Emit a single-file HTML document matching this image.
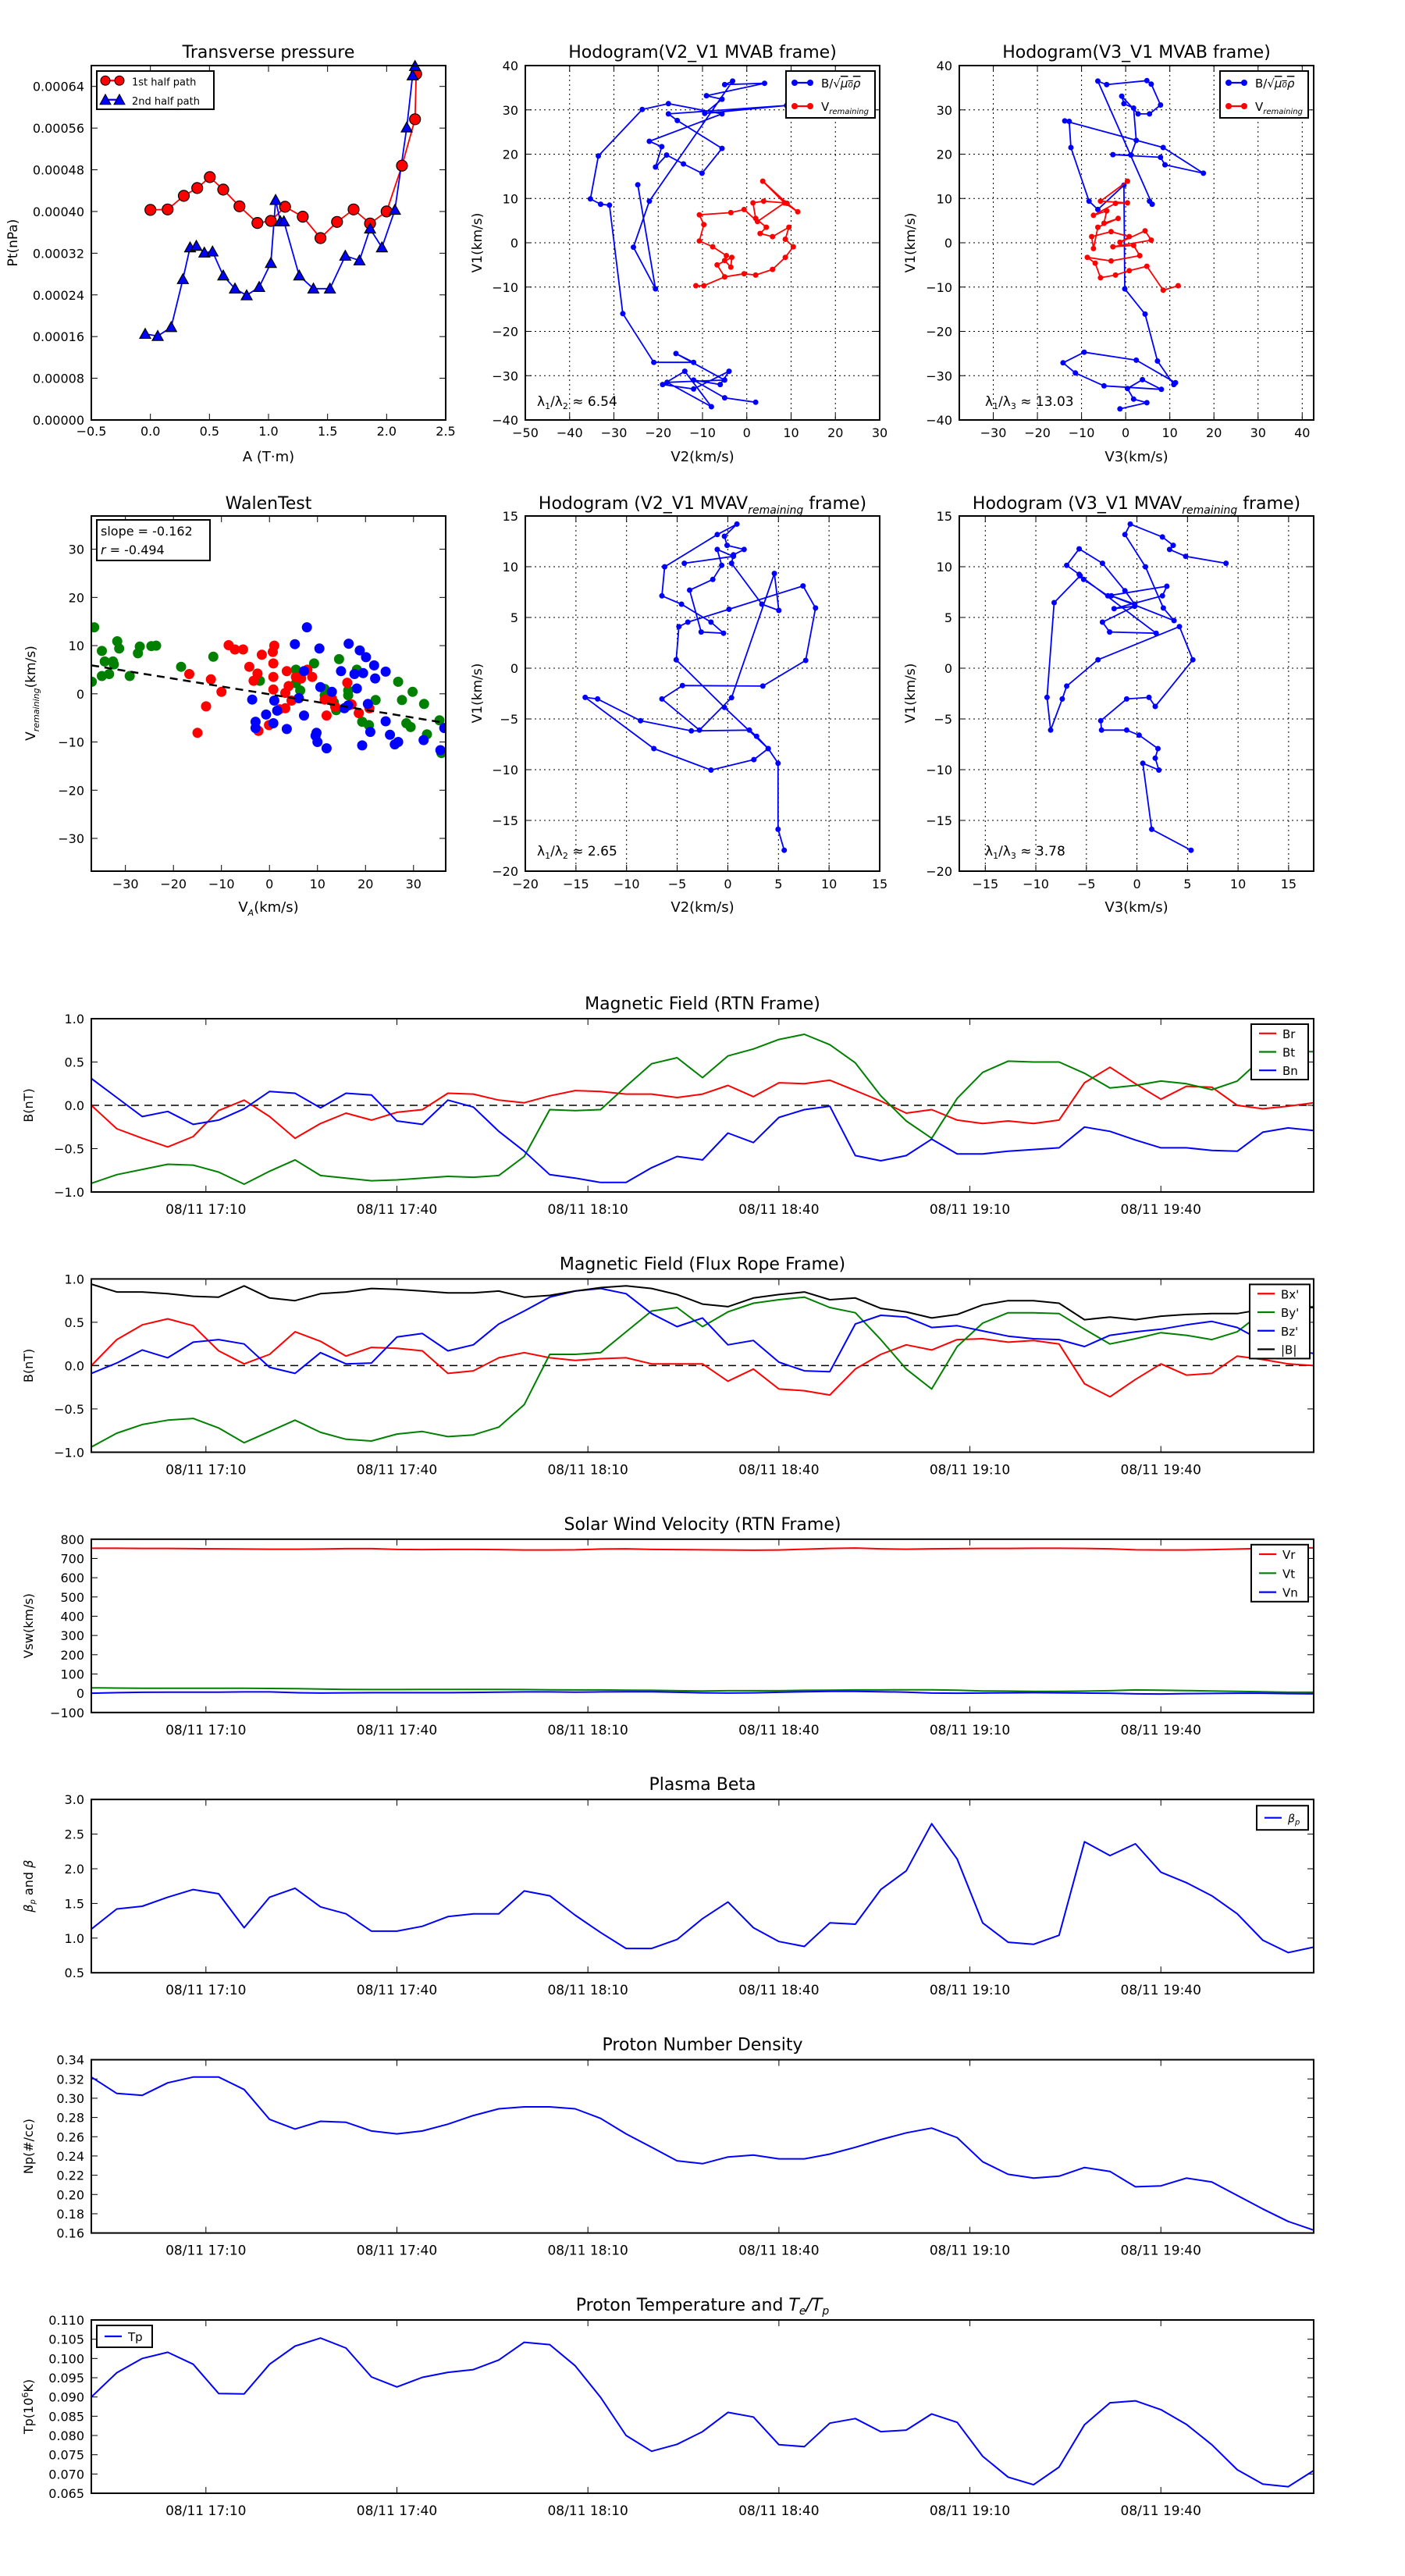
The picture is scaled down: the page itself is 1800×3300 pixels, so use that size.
<!DOCTYPE html>
<html><head><meta charset="utf-8"><style>
html,body{margin:0;padding:0;background:#fff}
svg{display:block;font-family:"DejaVu Sans","Liberation Sans",sans-serif}
</style></head><body>
<svg id="fig" xmlns="http://www.w3.org/2000/svg" width="1800" height="3300" viewBox="0 0 1800 3300"></svg>
<script>
// ---------- data ----------
const ptA1=[0.00,0.146,0.283,0.397,0.503,0.617,0.754,0.906,1.02,1.14,1.29,1.44,1.58,1.72,1.86,2.0,2.13,2.24,2.25];
const ptP1=[0.000403,0.000404,0.000430,0.000445,0.000466,0.000442,0.000410,0.000378,0.000382,0.000409,0.000390,0.000349,0.000380,0.000404,0.000377,0.000400,0.000488,0.000577,0.000664];
const ptA2=[-0.044,0.062,0.176,0.275,0.336,0.389,0.457,0.526,0.617,0.716,0.815,0.921,1.02,1.06,1.10,1.13,1.26,1.38,1.52,1.65,1.77,1.86,1.96,2.07,2.17,2.22,2.24];
const ptP2=[0.000165,0.000161,0.000178,0.000270,0.000331,0.000334,0.000321,0.000323,0.000277,0.000252,0.000239,0.000255,0.000301,0.000422,0.000381,0.000381,0.000277,0.000252,0.000252,0.000315,0.000306,0.000367,0.000331,0.000403,0.000561,0.000661,0.000679];

const h1BV2=[2,-5,-12,-6,-4,-12,-19,-14,-8,-18,-5,-16,-12,-21,-28,-31,-33,-35.3,-33.5,-23.6,-17.7,-5.6,-22,-19.2,-20.6,-18.1,-14.3,-10.1,-5.6,-15.7,-17.7,9,-9.5,-5.6,-9.1,4,-5,-3.2,-22,-25.6,-20.6,-24.6];
const h1BV1=[-36,-35,-31,-32,-29,-33,-32,-29,-37,-31.5,-31,-25,-27,-27,-16,8.5,8.7,9.9,19.6,30.1,31.4,29.1,22.9,21.7,17.1,19.8,17.8,15.7,21.3,27.6,29.1,31,29.2,32.4,33.2,36,35.7,36.5,9.4,-1,-10.4,13.1];
const h1RV2=[-11.5,-9.7,-5,-0.6,2,5.8,8.7,10.5,8.7,9.5,5.8,3,4.4,2,1.4,3.8,8.5,11.5,9.1,3.6,8.5,2.4,-0.6,-3.6,-10.7,-9.7,-10.7,-7.7,-4.6,-5,-3.6,-3.4,-6.7,-5];
const h1RV1=[-9.7,-9.7,-7.7,-7,-7.3,-6,-3.3,-0.9,0.8,3.5,1.4,2.1,3.5,5.5,9,9.4,9,7,8.9,13.9,9,4.8,7.5,6.8,6.3,4.1,0.4,-0.9,-2.9,-4,-5.5,-3.3,-5,-7.7];

const h2BV3=[-1.3,4.8,1.8,0.4,3.8,8.1,-4.9,-11.4,-14.2,-9.4,2.4,11.3,10.9,7.2,4.4,-0.2,-0.4,-6.3,-8.3,-12.4,-12.8,-13.8,8.5,17.6,8.9,7.9,-2.9,1.2,2.4,1.8,-0.4,-0.9,2.8,5.4,7.9,5.8,4.8,-4.3,-6.3,6.0,5.4];
const h2BV1=[-37.5,-36.1,-35.3,-32.9,-30.9,-33.1,-32.3,-29.4,-27.1,-24.7,-26.5,-31.6,-32,-26.7,-16.1,-10.4,13,7.5,9.4,21.5,27.4,27.5,21.5,15.7,17.6,19.3,19.9,19.8,23.1,30.4,31.4,33.1,29.1,29.1,31.1,35.8,36.6,35.7,36.5,8.7,9.4];
const h2RV3=[11.9,8.5,4.8,0.8,-2.3,-5.7,-6.9,-8.7,-3.3,3.2,1.8,-2.9,5.8,4.4,-1.3,0.8,-3.3,-7.7,-7.3,-6.3,-1.7,-4.9,-4.3,-7.3,-2.3,0.4,-5.7,0.4];
const h2RV1=[-9.7,-10.7,-5.3,-6.3,-7.3,-7.9,-4.6,-3.3,-4.1,-2.9,-0.6,-0.9,0.6,2.7,0.1,1.4,2.5,1.4,-1.3,3.5,5.5,4.4,7.2,6.2,8.9,9.0,9.4,13.9];

const wGx=[-36.5,-34.9,-34.3,-32.6,-31.7,-31.3,-32.4,-34.9,-33.4,-29.1,-27.4,-27.0,-24.6,-23.6,-18.4,-11.7,-37.0,-2.0,5.5,9.3,5.5,6.4,11.5,14.5,16.4,16.4,18.2,18.6,19.3,20.7,22.1,26.8,27.6,29.8,32.2,28.5,29.4,32.8,35.4,35.8,13.9,11.5,13.4];
const wGy=[13.8,8.9,6.7,6.7,10.9,9.4,6.1,3.7,4.1,3.7,8.4,9.8,9.9,10.0,5.6,7.7,2.5,2.7,5.0,6.3,2.2,0.7,1.0,7.2,0.7,-0.3,5.0,-4.0,-5.8,-6.5,-1.3,2.5,-1.3,0.4,-2.1,-6.1,-6.9,-8.4,-5.5,-12.3,-3.4,-0.3,-1.8];
const wRx=[-8.5,-7.2,-5.5,-1.6,1.0,0.7,0.8,-4.2,-2.5,-3.3,0.8,3.6,7.9,8.9,6.6,5.5,4.0,3.3,0.8,-10.0,-12.2,-16.7,-13.2,-15.0,-2.3,-0.1,2.1,3.3,4.6,6.1,11.5,13.0,13.7,16.2,17.1,18.6,20.8,11.9];
const wRy=[10.1,9.2,9.2,8.1,10.0,8.7,6.3,5.6,4.2,2.7,3.5,4.7,5.0,3.5,3.2,3.5,1.6,0.2,0.9,0.4,3.0,4.1,-2.6,-8.1,-7.7,-6.5,-3.2,-3.0,-1.4,-0.9,-1.2,-1.0,-2.7,2.3,-2.2,-4.0,-3.0,-4.5];
const wBx=[7.8,5.3,10.4,16.5,18.8,20.1,21.8,24.2,22.0,19.5,17.7,14.9,13.0,10.6,7.2,6.1,7.2,3.6,0.8,-0.7,-2.9,-2.9,-3.6,1.0,1.6,9.8,9.6,10.0,11.9,21.0,19.3,25.1,26.1,26.8,32.1,35.6,36.4,24.2,20.5,18.2,16.4,15.6];
const wBy=[13.8,10.3,9.4,10.4,9.0,7.6,5.9,4.6,3.2,4.3,4.1,4.7,0.4,1.4,4.7,-0.9,-4.5,-7.3,-6.1,-4.3,-5.8,-7.1,-1.2,-1.4,-3.5,-8.1,-8.7,-10.0,-11.3,-7.9,-10.7,-8.5,-10.5,-10.0,-9.6,-11.7,-7.1,-5.7,-2.1,1.1,-2.4,-3.0];
const walenSlope=-0.162, walenIntercept=-0.1;

const h3V2=[5.57,4.96,4.96,3.99,2.84,2.13,-3.60,-8.62,-12.86,-14.09,-7.30,-1.66,2.57,3.99,-0.33,-5.10,-4.83,-3.95,0.11,7.43,8.66,7.69,3.46,-4.48,-6.51,-2.80,0.37,4.60,5.04,3.37,0.37,0.55,1.61,-0.07,-0.33,0.90,-1.04,-6.24,-6.51,-4.57,-1.66,-0.42,-2.63,-3.77,-1.48,-0.60,-1.04,0.55,-4.30];
const h3V1=[-17.94,-15.88,-9.37,-7.92,-6.71,-6.10,-6.18,-5.18,-3.03,-2.88,-7.92,-10.04,-9.01,-7.92,-3.86,0.83,4.10,4.54,5.81,8.11,5.93,0.77,-1.76,-1.71,-3.03,-6.10,-2.91,9.34,5.69,6.31,10.34,11.17,11.70,12.11,13.00,14.20,13.17,9.99,7.13,6.31,4.54,3.45,3.57,7.69,8.75,10.14,11.70,11.02,10.34];
const h4V3=[5.35,1.46,0.58,2.17,1.81,2.08,0.22,-1.02,-3.50,-3.58,-1.02,1.19,1.81,5.53,4.20,-3.85,-6.95,-7.39,-8.54,-8.89,-8.19,-5.62,1.90,-2.70,-3.41,-0.22,-2.26,2.52,2.96,-2.88,-5.27,-5.71,-6.95,-5.71,-3.41,-1.19,-0.22,-2.52,3.67,2.61,0.84,-1.19,-0.66,2.52,3.58,3.23,4.82,8.81];
const h4V1=[-17.94,-15.88,-9.37,-10.04,-8.87,-7.92,-6.60,-6.10,-6.10,-5.18,-3.03,-2.88,-3.77,0.83,4.10,0.83,-1.76,-3.03,-6.10,-2.88,6.46,9.11,3.45,3.57,4.54,6.10,5.87,7.13,8.08,7.13,8.75,9.25,10.14,11.76,10.34,7.63,6.31,7.13,4.69,5.93,9.99,13.17,14.20,12.93,12.11,11.70,11.02,10.34];

const minutes=[0,4,8,12,16,20,24,28,32,36,40,44,48,52,56,60,64,68,72,76,80,84,88,92,96,100,104,108,112,116,120,124,128,132,136,140,144,148,152,156,160,164,168,172,176,180,184,188,192];
const timeTickMin=[18,48,78,108,138,168];
const timeTickLbl=["08/11 17:10","08/11 17:40","08/11 18:10","08/11 18:40","08/11 19:10","08/11 19:40"];

const Br=[0,-0.27,-0.38,-0.48,-0.36,-0.06,0.06,-0.13,-0.38,-0.21,-0.09,-0.17,-0.08,-0.05,0.14,0.13,0.06,0.03,0.11,0.17,0.16,0.13,0.13,0.09,0.13,0.23,0.10,0.26,0.25,0.29,0.17,0.05,-0.09,-0.05,-0.17,-0.21,-0.18,-0.21,-0.17,0.26,0.44,0.25,0.07,0.22,0.21,0.0,-0.04,-0.01,0.03];
const Bt=[-0.90,-0.80,-0.74,-0.68,-0.69,-0.77,-0.91,-0.76,-0.63,-0.81,-0.84,-0.87,-0.86,-0.84,-0.82,-0.83,-0.81,-0.59,-0.05,-0.06,-0.05,0.22,0.48,0.55,0.32,0.57,0.65,0.76,0.82,0.70,0.49,0.11,-0.18,-0.38,0.08,0.38,0.51,0.50,0.50,0.37,0.20,0.23,0.28,0.25,0.18,0.28,0.55,0.62,0.62];
const Bn=[0.31,0.09,-0.13,-0.07,-0.22,-0.17,-0.04,0.16,0.14,-0.03,0.14,0.12,-0.18,-0.22,0.06,-0.02,-0.30,-0.53,-0.80,-0.84,-0.89,-0.89,-0.72,-0.59,-0.63,-0.32,-0.43,-0.14,-0.05,-0.01,-0.58,-0.64,-0.58,-0.39,-0.56,-0.56,-0.53,-0.51,-0.49,-0.25,-0.30,-0.40,-0.49,-0.49,-0.52,-0.53,-0.31,-0.26,-0.29];
const Bx=[0,0.30,0.47,0.54,0.46,0.17,0.02,0.13,0.39,0.28,0.11,0.21,0.20,0.17,-0.09,-0.06,0.09,0.15,0.09,0.06,0.08,0.09,0.02,0.02,0.02,-0.18,-0.04,-0.27,-0.29,-0.34,-0.04,0.13,0.24,0.18,0.30,0.31,0.27,0.29,0.25,-0.21,-0.36,-0.16,0.02,-0.11,-0.09,0.11,0.07,0.02,0.0];
const By=[-0.94,-0.78,-0.68,-0.63,-0.61,-0.72,-0.89,-0.76,-0.63,-0.77,-0.85,-0.87,-0.79,-0.76,-0.82,-0.80,-0.71,-0.45,0.13,0.13,0.15,0.39,0.63,0.67,0.45,0.62,0.72,0.76,0.79,0.67,0.61,0.30,-0.04,-0.27,0.22,0.49,0.61,0.61,0.60,0.42,0.25,0.31,0.38,0.35,0.30,0.39,0.62,0.68,0.68];
const Bz=[-0.09,0.03,0.18,0.09,0.27,0.30,0.25,-0.02,-0.09,0.15,0.02,0.03,0.33,0.37,0.17,0.24,0.48,0.63,0.79,0.86,0.89,0.83,0.60,0.45,0.55,0.24,0.29,0.04,-0.06,-0.07,0.48,0.58,0.56,0.44,0.46,0.40,0.34,0.31,0.30,0.22,0.35,0.39,0.42,0.47,0.51,0.44,0.28,0.19,0.14];
const Bmag=[0.94,0.85,0.85,0.83,0.80,0.79,0.92,0.78,0.75,0.83,0.85,0.89,0.88,0.86,0.84,0.84,0.86,0.79,0.81,0.86,0.90,0.92,0.89,0.82,0.71,0.68,0.78,0.82,0.85,0.76,0.78,0.66,0.62,0.55,0.59,0.70,0.75,0.75,0.72,0.53,0.56,0.53,0.57,0.59,0.60,0.60,0.65,0.66,0.67];
const Vr=[753,753,752,752,751,750,749,748,748,749,751,751,747,746,747,747,746,744,744,745,749,750,747,746,745,744,743,744,748,752,754,750,748,750,751,752,752,753,753,752,750,745,744,744,746,749,752,754,755];
const Vt=[28,27,26,26,26,26,26,25,24,22,20,19,19,20,20,20,20,19,18,17,17,16,15,13,12,13,13,13,15,16,17,17,18,18,16,12,11,10,10,11,13,17,16,14,12,10,8,5,5];
const Vn=[0,3,5,6,6,6,7,7,3,1,2,3,3,3,3,4,6,7,7,6,7,8,8,5,2,1,2,5,8,10,10,8,6,1,0,1,2,3,2,1,0,-3,-4,-2,-1,0,0,-2,-3];
const beta=[1.13,1.42,1.46,1.59,1.70,1.64,1.15,1.59,1.72,1.45,1.35,1.10,1.10,1.17,1.31,1.35,1.35,1.68,1.61,1.33,1.08,0.85,0.85,0.98,1.28,1.52,1.15,0.95,0.88,1.22,1.20,1.70,1.97,2.65,2.14,1.22,0.94,0.91,1.04,2.39,2.19,2.36,1.95,1.80,1.61,1.35,0.97,0.79,0.87];
const Np=[0.322,0.305,0.303,0.316,0.322,0.322,0.309,0.278,0.268,0.276,0.275,0.266,0.263,0.266,0.273,0.282,0.289,0.291,0.291,0.289,0.279,0.263,0.249,0.235,0.232,0.239,0.241,0.237,0.237,0.242,0.249,0.257,0.264,0.269,0.259,0.234,0.221,0.217,0.219,0.228,0.224,0.208,0.209,0.217,0.213,0.199,0.185,0.172,0.163];
const Tp=[0.090,0.0963,0.100,0.1016,0.0985,0.0909,0.0908,0.0985,0.1032,0.1053,0.1027,0.0952,0.0926,0.0951,0.0964,0.0971,0.0996,0.1042,0.1036,0.0981,0.0899,0.0800,0.0759,0.0777,0.0810,0.0860,0.0848,0.0776,0.0771,0.0832,0.0844,0.0810,0.0814,0.0856,0.0834,0.0746,0.0692,0.0672,0.0718,0.0828,0.0885,0.0890,0.0867,0.0829,0.0776,0.0711,0.0674,0.0667,0.0709];

// ---------- helpers ----------
const NS="http://www.w3.org/2000/svg";
const fig=document.getElementById('fig');
function mk(tag,attrs,parent){const e=document.createElementNS(NS,tag);for(const k in attrs)e.setAttribute(k,attrs[k]);(parent||fig).appendChild(e);return e;}
function txt(s,x,y,size,anchor,parent,extra){const t=mk('text',Object.assign({x:x,y:y,'font-size':size,'text-anchor':anchor||'middle',fill:'#000'},extra||{}),parent);t.textContent=s;return t;}
function fmt(v,d){const s=v.toFixed(d);return v<0?'\u2212'+s.slice(1):s;}

function makeAxes(name,box,xr,yr){
  const g=mk('g',{});
  
  
  return {g:g,box:box,
    sx:v=>box.l+(v-xr[0])/(xr[1]-xr[0])*(box.r-box.l),
    sy:v=>box.b-(v-yr[0])/(yr[1]-yr[0])*(box.b-box.t)};
}
function frame(ax){
  const b=ax.box;
  const f=mk('rect',{x:b.l,y:b.t,width:b.r-b.l,height:b.b-b.t,fill:'none',stroke:'#000','stroke-width':2},ax.g);
  
  
}
function xticks(ax,vals,labels,opt){
  const b=ax.box;opt=opt||{};
  vals.forEach((v,i)=>{const x=ax.sx(v);
    if(opt.grid){const gl=mk('line',{x1:x,x2:x,y1:b.t,y2:b.b,stroke:'#000','stroke-width':1,'stroke-dasharray':'2,4'},ax.g);}
    mk('line',{x1:x,x2:x,y1:b.b,y2:b.b-8,stroke:'#000','stroke-width':1},ax.g);
    mk('line',{x1:x,x2:x,y1:b.t,y2:b.t+8,stroke:'#000','stroke-width':1},ax.g);
    const t=txt(labels[i],x,b.b+(opt.dy||23),opt.fs||17,'middle',ax.g);
    
    
  });
}
function yticks(ax,vals,labels,opt){
  const b=ax.box;opt=opt||{};
  vals.forEach((v,i)=>{const y=ax.sy(v);
    if(opt.grid){const gl=mk('line',{x1:b.l,x2:b.r,y1:y,y2:y,stroke:'#000','stroke-width':1,'stroke-dasharray':'2,4'},ax.g);}
    mk('line',{x1:b.l,x2:b.l+8,y1:y,y2:y,stroke:'#000','stroke-width':1},ax.g);
    mk('line',{x1:b.r,x2:b.r-8,y1:y,y2:y,stroke:'#000','stroke-width':1},ax.g);
    const t=txt(labels[i],b.l-9,y+6,opt.fs||17,'end',ax.g);
    
    
  });
}
function line(ax,xs,ys,color,name,w){
  const d=xs.map((x,i)=>(i?'L':'M')+ax.sx(x).toFixed(1)+','+ax.sy(ys[i]).toFixed(1)).join('');
  const p=mk('path',{d:d,fill:'none',stroke:color,'stroke-width':w||2,'stroke-linejoin':'round'},ax.g);
  
  
  return p;
}
function dots(ax,xs,ys,color,name,r,edge){
  const g=mk('g',{},ax.g);
  
  
  xs.forEach((x,i)=>{mk('circle',{cx:ax.sx(x).toFixed(1),cy:ax.sy(ys[i]).toFixed(1),r:r,fill:color,stroke:edge||'none','stroke-width':1.2},g);});
}
function tris(ax,xs,ys,color,name,s){
  const g=mk('g',{},ax.g);
  
  
  xs.forEach((x,i)=>{const cx=ax.sx(x),cy=ax.sy(ys[i]);
    mk('polygon',{points:`${cx},${cy-s} ${cx-s},${cy+s*0.8} ${cx+s},${cy+s*0.8}`,fill:color,stroke:'#000','stroke-width':1.2},g);});
}
function clip(ax,id){const cp=mk('clipPath',{id:id});mk('rect',{x:ax.box.l,y:ax.box.t,width:ax.box.r-ax.box.l,height:ax.box.b-ax.box.t},cp);const g=mk('g',{'clip-path':`url(#${id})`},ax.g);return {g:g,sx:ax.sx,sy:ax.sy,box:ax.box};}
function title(s,x,y,name){const t=txt(s,x,y,22,'middle');return t;}
function ylabel(s,x,y,name,fs){const t=txt(s,x,y,fs||17,'middle',null,{transform:`rotate(-90 ${x} ${y})`});return t;}
function xlabel(s,x,y,name){const t=txt(s,x,y,18,'middle');return t;}
function legend(x,y,w,h,items,name){
  const g=mk('g',{});
  
  
  mk('rect',{x:x,y:y,width:w,height:h,fill:'#fff',stroke:'#000','stroke-width':2},g);
  const step=h/items.length;
  items.forEach((it,i)=>{const cy=y+step*(i+0.5);
    const e=mk('g',{},g);
    
    
    mk('line',{x1:x+10,x2:x+32,y1:cy,y2:cy,stroke:it.c,'stroke-width':2.2},e);
    if(it.m==='o'){mk('circle',{cx:x+11,cy:cy,r:6,fill:it.c,stroke:'#000'},e);mk('circle',{cx:x+29,cy:cy,r:6,fill:it.c,stroke:'#000'},e);}
    if(it.m==='^'){[x+11,x+29].forEach(cx=>mk('polygon',{points:`${cx},${cy-7} ${cx-7},${cy+6} ${cx+7},${cy+6}`,fill:it.c,stroke:'#000'},e));}
    if(it.m==='.'){mk('circle',{cx:x+11,cy:cy,r:4,fill:it.c},e);mk('circle',{cx:x+31,cy:cy,r:4,fill:it.c},e);}
    const t=txt('',x+(it.tx||45),cy+6,it.fs||16,'start',e);t.innerHTML=it.t;
  });
}
function range(a,b,s){const r=[];for(let v=a;v<=b+1e-9;v+=s)r.push(+v.toFixed(6));return r;}

const R1={t:84,b:538}, R2={t:661,b:1116};
const C1={l:117,r:571}, C2={l:673,r:1127}, C3={l:1229,r:1683};
const bx=(c,r)=>({l:c.l,r:c.r,t:r.t,b:r.b});

// ---------- Panel 1 ----------
{const ax=makeAxes('transverse-pressure-chart',bx(C1,R1),[-0.5,2.5],[0,0.00068]);
 title('Transverse pressure',344,74,'transverse-pressure-title');
 const xv=range(-0.5,2.5,0.5);xticks(ax,xv,xv.map(v=>fmt(v,1)),{dy:20,fs:16});
 const yv=range(0,0.00064,0.00008);yticks(ax,yv,yv.map(v=>v.toFixed(5)),{fs:16});
 const sub=clip(ax,'c1');
 line(sub,ptA1,ptP1,'#f00','first-half-line',1.8);
 line(sub,ptA2,ptP2,'#00f','second-half-line',1.8);
 dots(ax,ptA1,ptP1,'#f00','first-half-markers',7,'#000');
 tris(ax,ptA2,ptP2,'#00f','second-half-markers',7);
 frame(ax);
 legend(124,91,150,49,[{c:'#f00',m:'o',t:'1st half path',fs:13},{c:'#00f',m:'^',t:'2nd half path',fs:13}],'pressure-legend');
 ylabel('Pt(nPa)',22,311,'pressure-y-title');
 xlabel('A (T\u00b7m)',344,591,'pressure-x-title');}

// ---------- Panel 2 ----------
{const ax=makeAxes('hodogram-v2-v1-mvab',bx(C2,R1),[-50,30],[-40,40]);
 title('Hodogram(V2_V1 MVAB frame)',900,74,'hodogram1-title');
 const xv=range(-50,30,10);xticks(ax,xv,xv.map(v=>fmt(v,0)),{grid:true,dy:22,fs:16});
 const yv=range(-40,40,10);yticks(ax,yv,yv.map(v=>fmt(v,0)),{grid:true,fs:16});
 const sub=clip(ax,'c2');
 line(sub,h1BV2,h1BV1,'#00f','b-hodogram-line',1.8);dots(sub,h1BV2,h1BV1,'#00f','b-hodogram-points',3.5);
 line(sub,h1RV2,h1RV1,'#f00','v-remaining-line',1.8);dots(sub,h1RV2,h1RV1,'#f00','v-remaining-points',3.5);
 frame(ax);
 legend(1007,91,114,60,[{c:'#00f',m:'.',t:'B/√<tspan text-decoration="overline" font-style="italic">μ<tspan font-size="10">0</tspan>ρ</tspan>',fs:15},{c:'#f00',m:'.',t:'V<tspan font-size="10" dy="4" font-style="italic">remaining</tspan>',fs:15}],'hodogram1-legend');
 const l=txt('',688,520,17,'start');l.innerHTML='λ<tspan font-size="11" dy="4">1</tspan><tspan dy="-4">/λ</tspan><tspan font-size="11" dy="4">2</tspan><tspan dy="-4"> ≈ 6.54</tspan>';
 
 ylabel('V1(km/s)',617,311,'hodogram1-y-title');
 xlabel('V2(km/s)',900,591,'hodogram1-x-title');}

// ---------- Panel 3 ----------
{const ax=makeAxes('hodogram-v3-v1-mvab',bx(C3,R1),[-37.7,42.6],[-40,40]);
 title('Hodogram(V3_V1 MVAB frame)',1456,74,'hodogram2-title');
 const xv=range(-30,40,10);xticks(ax,xv,xv.map(v=>fmt(v,0)),{grid:true,dy:22,fs:16});
 const yv=range(-40,40,10);yticks(ax,yv,yv.map(v=>fmt(v,0)),{grid:true,fs:16});
 const sub=clip(ax,'c3');
 line(sub,h2BV3,h2BV1,'#00f','b-hodogram-line',1.8);dots(sub,h2BV3,h2BV1,'#00f','b-hodogram-points',3.5);
 line(sub,h2RV3,h2RV1,'#f00','v-remaining-line',1.8);dots(sub,h2RV3,h2RV1,'#f00','v-remaining-points',3.5);
 frame(ax);
 legend(1563,91,113,60,[{c:'#00f',m:'.',t:'B/√<tspan text-decoration="overline" font-style="italic">μ<tspan font-size="10">0</tspan>ρ</tspan>',fs:15},{c:'#f00',m:'.',t:'V<tspan font-size="10" dy="4" font-style="italic">remaining</tspan>',fs:15}],'hodogram2-legend');
 const l=txt('',1262,520,17,'start');l.innerHTML='λ<tspan font-size="11" dy="4">1</tspan><tspan dy="-4">/λ</tspan><tspan font-size="11" dy="4">3</tspan><tspan dy="-4"> ≈ 13.03</tspan>';
 
 ylabel('V1(km/s)',1172,311,'hodogram2-y-title');
 xlabel('V3(km/s)',1456,591,'hodogram2-x-title');}

// ---------- Panel 4: Walen ----------
{const ax=makeAxes('walen-test-chart',bx(C1,R2),[-37.1,36.7],[-36.8,36.9]);
 title('WalenTest',344,652,'walen-title');
 const xv=range(-30,30,10);xticks(ax,xv,xv.map(v=>fmt(v,0)),{dy:22,fs:16});
 const yv=range(-30,30,10);yticks(ax,yv,yv.map(v=>fmt(v,0)),{fs:16});
 const sub=clip(ax,'c4');
 dots(sub,wGx,wGy,'#008000','walen-green-points',6.5);
 dots(sub,wRx,wRy,'#f00','walen-red-points',6.5);
 dots(sub,wBx,wBy,'#00f','walen-blue-points',6.5);
 const fx=[-37.1,36.7];const fy=fx.map(v=>walenSlope*v+walenIntercept);
 const fl=line(sub,fx,fy,'#000','walen-fit-line',2.5);fl.setAttribute('stroke-dasharray','10,7');
 frame(ax);
 const g=mk('g',{});
 mk('rect',{x:124,y:666,width:145,height:52,fill:'#fff',stroke:'#000','stroke-width':2},g);
 txt('slope = -0.162',129,686,16,'start',g);
 const r=txt('',129,710,16,'start',g);r.innerHTML='<tspan font-style="italic">r</tspan> = -0.494';
 const yl=ylabel('',45,888,'walen-y-title');yl.innerHTML='V<tspan font-size="11" dy="5" font-style="italic">remaining</tspan><tspan dy="-5">(km/s)</tspan>';
 const xl=xlabel('',344,1168,'walen-x-title');xl.innerHTML='V<tspan font-size="11" dy="5" font-style="italic">A</tspan><tspan dy="-5">(km/s)</tspan>';}

// ---------- Panel 5 ----------
{const ax=makeAxes('hodogram-v2-v1-mvav',bx(C2,R2),[-20,15],[-20,15]);
 const t=title('',900,652,'hodogram3-title');t.innerHTML='Hodogram (V2_V1 MVAV<tspan font-size="14" dy="6" font-style="italic">remaining</tspan><tspan dy="-6"> frame)</tspan>';
 const xv=range(-20,15,5);xticks(ax,xv,xv.map(v=>fmt(v,0)),{grid:true,dy:22,fs:16});
 const yv=range(-20,15,5);yticks(ax,yv,yv.map(v=>fmt(v,0)),{grid:true,fs:16});
 const sub=clip(ax,'c5');
 line(sub,h3V2,h3V1,'#00f','mvav-hodogram-line',1.8);dots(sub,h3V2,h3V1,'#00f','mvav-hodogram-points',3.5);
 frame(ax);
 const l=txt('',688,1096,17,'start');l.innerHTML='λ<tspan font-size="11" dy="4">1</tspan><tspan dy="-4">/λ</tspan><tspan font-size="11" dy="4">2</tspan><tspan dy="-4"> ≈ 2.65</tspan>';
 
 ylabel('V1(km/s)',617,888,'hodogram3-y-title');
 xlabel('V2(km/s)',900,1168,'hodogram3-x-title');}

// ---------- Panel 6 ----------
{const ax=makeAxes('hodogram-v3-v1-mvav',bx(C3,R2),[-17.57,17.48],[-20,15]);
 const t=title('',1456,652,'hodogram4-title');t.innerHTML='Hodogram (V3_V1 MVAV<tspan font-size="14" dy="6" font-style="italic">remaining</tspan><tspan dy="-6"> frame)</tspan>';
 const xv=range(-15,15,5);xticks(ax,xv,xv.map(v=>fmt(v,0)),{grid:true,dy:22,fs:16});
 const yv=range(-20,15,5);yticks(ax,yv,yv.map(v=>fmt(v,0)),{grid:true,fs:16});
 const sub=clip(ax,'c6');
 line(sub,h4V3,h4V1,'#00f','mvav-hodogram-line',1.8);dots(sub,h4V3,h4V1,'#00f','mvav-hodogram-points',3.5);
 frame(ax);
 const l=txt('',1262,1096,17,'start');l.innerHTML='λ<tspan font-size="11" dy="4">1</tspan><tspan dy="-4">/λ</tspan><tspan font-size="11" dy="4">3</tspan><tspan dy="-4"> ≈ 3.78</tspan>';
 
 ylabel('V1(km/s)',1172,888,'hodogram4-y-title');
 xlabel('V3(km/s)',1456,1168,'hodogram4-x-title');}

// ---------- Time series ----------
function timePanel(name,top,yr,yv,ydec,ttl,ylab,series,leg,zeroLine){
  const bot=top+222;
  const ax=makeAxes(name,{l:117,r:1683,t:top,b:bot},[0,192],yr);
  const tt=title('',900,top-12,name+'-title');tt.innerHTML=ttl;
  xticks(ax,timeTickMin,timeTickLbl,{dy:28,fs:17});
  yticks(ax,yv,yv.map(v=>fmt(v,ydec)),{fs:16});
  const sub=clip(ax,'c'+name);
  if(zeroLine){const z=line(sub,[0,192],[0,0],'#000','zero-line',1.5);z.setAttribute('stroke-dasharray','10,7');}
  series.forEach(s=>line(sub,minutes,s.v,s.c,s.n,2));
  frame(ax);
  if(leg)legend(leg.x,top+leg.dy,leg.w,leg.h,leg.items,name+'-legend');
  const yl=ylabel('',42,top+111,name+'-y-title',16);yl.innerHTML=ylab;
}
const T0=1305, TP=333.4;
timePanel('magnetic-field-rtn',T0,[-1,1],range(-1,1,0.5),1,'Magnetic Field (RTN Frame)','B(nT)',
  [{v:Br,c:'#f00',n:'br-line'},{v:Bt,c:'#008000',n:'bt-line'},{v:Bn,c:'#00f',n:'bn-line'}],
  {x:1603,dy:7,w:73,h:71,items:[{c:'#f00',t:'Br',fs:15,tx:40},{c:'#008000',t:'Bt',fs:15,tx:40},{c:'#00f',t:'Bn',fs:15,tx:40}]},true);
timePanel('magnetic-field-flux-rope',T0+TP,[-1,1],range(-1,1,0.5),1,'Magnetic Field (Flux Rope Frame)','B(nT)',
  [{v:Bx,c:'#f00',n:'bx-line'},{v:By,c:'#008000',n:'by-line'},{v:Bz,c:'#00f',n:'bz-line'},{v:Bmag,c:'#000',n:'bmag-line'}],
  {x:1601,dy:7,w:77,h:95,items:[{c:'#f00',t:"Bx'",fs:15,tx:40},{c:'#008000',t:"By'",fs:15,tx:40},{c:'#00f',t:"Bz'",fs:15,tx:40},{c:'#000',t:'|B|',fs:15,tx:40}]},true);
timePanel('solar-wind-velocity',T0+2*TP,[-100,800],range(-100,800,100),0,'Solar Wind Velocity (RTN Frame)','Vsw(km/s)',
  [{v:Vr,c:'#f00',n:'vr-line'},{v:Vt,c:'#008000',n:'vt-line'},{v:Vn,c:'#00f',n:'vn-line'}],
  {x:1603,dy:7,w:73,h:73,items:[{c:'#f00',t:'Vr',fs:15,tx:40},{c:'#008000',t:'Vt',fs:15,tx:40},{c:'#00f',t:'Vn',fs:15,tx:40}]},false);
timePanel('plasma-beta',T0+3*TP,[0.5,3.0],range(0.5,3.0,0.5),1,'Plasma Beta','<tspan font-style="italic">β<tspan font-size="10" dy="3">p</tspan></tspan><tspan dy="-3"> and </tspan><tspan font-style="italic">β</tspan>',
  [{v:beta,c:'#00f',n:'beta-line'}],
  {x:1610,dy:8,w:66,h:31,items:[{c:'#00f',t:'<tspan font-style="italic">β<tspan font-size="10" dy="3">p</tspan></tspan>',fs:14,tx:40}]},false);
timePanel('proton-density',T0+4*TP,[0.16,0.34],range(0.16,0.34,0.02),2,'Proton Number Density','Np(#/cc)',
  [{v:Np,c:'#00f',n:'density-line'}],null,false);
timePanel('proton-temperature',T0+5*TP,[0.065,0.110],range(0.065,0.110,0.005),3,'Proton Temperature and <tspan font-style="italic">T<tspan font-size="14" dy="5">e</tspan><tspan dy="-5">/T</tspan><tspan font-size="14" dy="5">p</tspan></tspan>','Tp(10<tspan font-size="11" dy="-6">6</tspan><tspan dy="6">K)</tspan>',
  [{v:Tp,c:'#00f',n:'tp-line'}],
  {x:124,dy:7,w:71,h:28,items:[{c:'#00f',t:'Tp',fs:15,tx:40}]},false);
</script>
</body></html>
